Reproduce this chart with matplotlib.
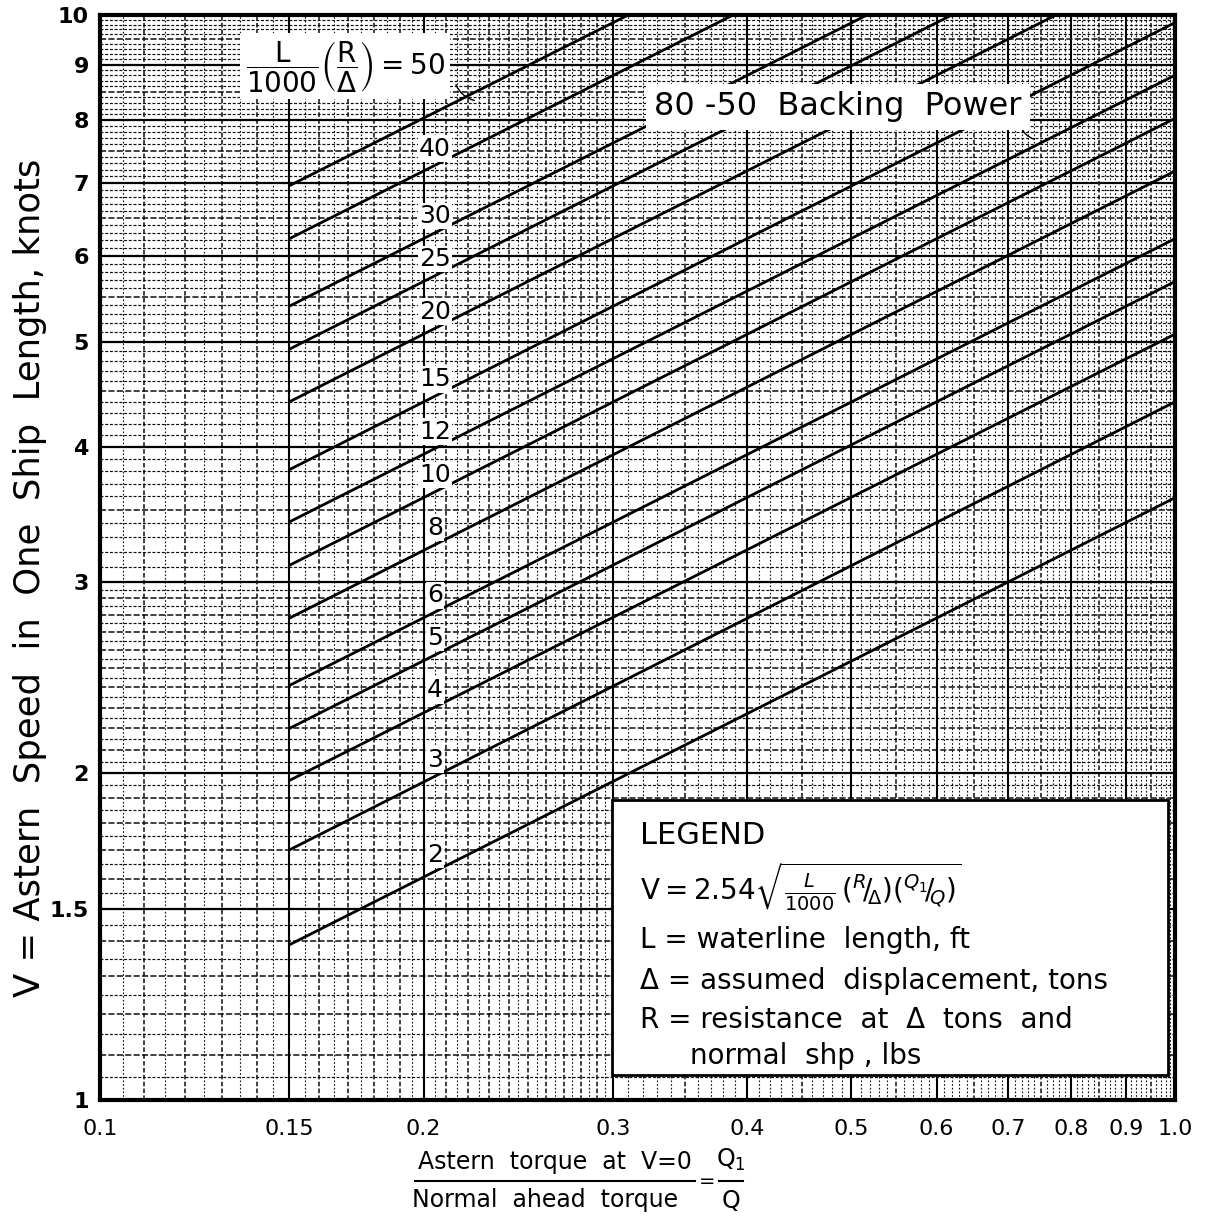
import numpy as np
import matplotlib
matplotlib.use("Agg")
import matplotlib.pyplot as plt
from matplotlib.patches import Rectangle
from matplotlib.lines import Line2D

# ---------------- data ----------------
k_values = [2, 3, 4, 5, 6, 8, 10, 12, 15, 20, 25, 30, 40, 50]
x_start = [0.15] * 14
v_start = [1.39, 1.70, 1.97, 2.20, 2.41, 2.78, 3.11, 3.41, 3.81, 4.40, 4.92, 5.39, 6.22, 6.96]
x_end = [1.0, 1.0, 1.0, 1.0, 1.0, 1.0, 1.0, 1.0, 1.0, 0.775, 0.62, 0.517, 0.388, 0.31]
v_end = [3.59, 4.40, 5.08, 5.68, 6.22, 7.18, 8.03, 8.80, 9.84, 10.0, 10.0, 10.0, 10.0, 10.0]

x_ticks = [0.1, 0.15, 0.2, 0.3, 0.4, 0.5, 0.6, 0.7, 0.8, 0.9, 1.0]
x_ticklabels = ["0.1", "0.15", "0.2", "0.3", "0.4", "0.5", "0.6", "0.7", "0.8", "0.9", "1.0"]
y_ticks = [1, 1.5, 2, 3, 4, 5, 6, 7, 8, 9, 10]
y_ticklabels = ["1", "1.5", "2", "3", "4", "5", "6", "7", "8", "9", "10"]
label_x = 0.205  # where the curve numbers are written

W, H = 1205, 1225
plt.rcParams['font.family'] = ['DejaVu Sans']

fig = plt.figure(figsize=(W / 100, H / 100), dpi=100)
fig.patch.set_facecolor('white')
ax = fig.add_axes([100 / W, 1 - 1100 / H, 1075 / W, 1085 / H])
ax.set_xscale('log')
ax.set_yscale('log')
ax.set_xlim(0.1, 1.0)
ax.set_ylim(1, 10)


def fp(x, y):
    return (x / W, 1 - y / H)


# ---------------- graph-paper grid ----------------
gx_fine = np.round(np.arange(0.105, 0.2999, 0.005), 4)
gx_fine2 = np.round(np.arange(0.30, 0.9999, 0.01), 4)
gy_fine = np.round(np.arange(1.05, 2.9999, 0.05), 4)
gy_fine2 = np.round(np.arange(3.0, 9.9999, 0.1), 4)
major_x = [0.15, 0.2, 0.3, 0.4, 0.5, 0.6, 0.7, 0.8, 0.9]
major_y = [1.5, 2, 3, 4, 5, 6, 7, 8, 9]


def is_major(v, majors):
    return any(abs(v - m) < 1e-6 for m in majors)


for v in np.concatenate([gx_fine, gx_fine2]):
    if is_major(v, major_x):
        continue
    mid = (v < 0.3 and abs(v * 100 - round(v * 100)) < 1e-6) or abs(v * 20 - round(v * 20)) < 1e-6
    ax.axvline(v, color='0.05', lw=1.1 if mid else 0.8,
               linestyle=(0, (3, 1.5)) if mid else (0, (1.5, 1.8)), zorder=1)
for v in np.concatenate([gy_fine, gy_fine2]):
    if is_major(v, major_y):
        continue
    mid = (v < 3 and abs(v * 10 - round(v * 10)) < 1e-6) or (v >= 3 and abs(v * 2 - round(v * 2)) < 1e-6)
    ax.axhline(v, color='0.05', lw=1.1 if mid else 0.85,
               linestyle=(0, (4, 1.5)) if mid else (0, (2.5, 1.5)), zorder=1)
for v in major_x:
    ax.axvline(v, color='black', lw=1.5, zorder=1.5)
for v in major_y:
    ax.axhline(v, color='black', lw=1.6, zorder=1.5)

# ---------------- the curves ----------------
for k, xs, vs, xe, ve in zip(k_values, x_start, v_start, x_end, v_end):
    ax.plot([xs, xe], [vs, ve], color='black', lw=2.0, solid_capstyle='butt', zorder=4)
    if k == 50:
        continue
    # position along the drawn line (log-linear interpolation between its ends)
    t = (np.log10(label_x) - np.log10(xs)) / (np.log10(xe) - np.log10(xs))
    vy = 10 ** (np.log10(vs) + t * (np.log10(ve) - np.log10(vs)))
    ax.annotate(str(k), (label_x, vy), xytext=(0, 12), textcoords='offset points',
                ha='center', va='center', fontsize=18, zorder=6,
                bbox=dict(boxstyle='square,pad=0.05', fc='white', ec='none'))

# ---------------- axes styling ----------------
ax.xaxis.set_minor_locator(matplotlib.ticker.NullLocator())
ax.yaxis.set_minor_locator(matplotlib.ticker.NullLocator())
ax.set_xticks(x_ticks)
ax.set_xticklabels(x_ticklabels, fontsize=16)
ax.set_yticks(y_ticks)
ax.set_yticklabels(y_ticklabels, fontsize=16, fontweight='bold')
ax.tick_params(axis='x', length=0, pad=14)
ax.tick_params(axis='y', length=0, pad=8)
for s in ax.spines.values():
    s.set_linewidth(3)
    s.set_zorder(7)

# ---------------- annotation boxes ----------------
fig.text(*fp(345, 66), r'$\dfrac{\mathregular{L}}{\mathregular{1000}}\left(\dfrac{\mathregular{R}}{\Delta}\right)\mathregular{ = 50}$',
         fontsize=20, ha='center', va='center', zorder=8,
         bbox=dict(boxstyle='square,pad=0.2', fc='white', ec='none'))
ax.annotate('', xy=fp(477, 101), xycoords='figure fraction', xytext=fp(455, 82),
            textcoords='figure fraction',
            arrowprops=dict(arrowstyle='-', lw=1.0, color='black',
                            connectionstyle='arc3,rad=0.3'), zorder=8)

fig.text(*fp(838, 107), '80 -50  Backing  Power', fontsize=23, ha='center', va='center',
         zorder=8, bbox=dict(boxstyle='square,pad=0.25', fc='white', ec='none'))
ax.annotate('', xy=fp(1037, 140), xycoords='figure fraction', xytext=fp(1020, 124),
            textcoords='figure fraction',
            arrowprops=dict(arrowstyle='-', lw=1.0, color='black',
                            connectionstyle='arc3,rad=0.3'), zorder=8)

# ---------------- legend box ----------------
x0, y0 = fp(612, 1075)
x1, y1 = fp(1168, 800)
fig.patches.append(Rectangle((x0, y0), x1 - x0, y1 - y0, transform=fig.transFigure,
                             fc='white', ec='black', lw=2.0, zorder=9))
fs = 20
fig.text(*fp(640, 835), 'LEGEND', fontsize=22, ha='left', va='center', zorder=10)
fig.text(*fp(640, 887),
         r'$\mathregular{V = 2.54}\sqrt{\frac{L}{1000}\,(^{R}\!/\!_{\Delta})(^{Q_1}\!/\!_{Q})}$',
         fontsize=20, ha='left', va='center', zorder=10)
fig.text(*fp(640, 940), 'L = waterline  length, ft', fontsize=fs, ha='left', va='center', zorder=10)
fig.text(*fp(640, 981), '\u0394 = assumed  displacement, tons', fontsize=fs, ha='left',
         va='center', zorder=10)
fig.text(*fp(640, 1020), 'R = resistance  at  \u0394  tons  and', fontsize=fs, ha='left',
         va='center', zorder=10)
fig.text(*fp(690, 1056), 'normal  shp , lbs', fontsize=fs, ha='left', va='center', zorder=10)

# ---------------- axis titles ----------------
fig.text(*fp(30, 578), 'V = Astern  Speed  in  One  Ship  Length, knots', fontsize=25.5,
         rotation=90, ha='center', va='center')

fig.text(*fp(555, 1162), 'Astern  torque  at  V=0', fontsize=17, ha='center', va='center')
fig.text(*fp(545, 1200), 'Normal  ahead  torque', fontsize=17, ha='center', va='center')
fig.lines.append(Line2D([415 / W, 695 / W], [1 - 1181 / H, 1 - 1181 / H],
                        transform=fig.transFigure, color='black', lw=1.5))
fig.text(*fp(707, 1181), '=', fontsize=14, ha='center', va='center')
fig.text(*fp(731, 1160), r'$\mathregular{Q_1}$', fontsize=17, ha='center', va='center')
fig.text(*fp(731, 1201), 'Q', fontsize=17, ha='center', va='center')
fig.lines.append(Line2D([719 / W, 743 / W], [1 - 1181 / H, 1 - 1181 / H],
                        transform=fig.transFigure, color='black', lw=1.5))

fig.savefig('out.png', dpi=100, facecolor='white')
